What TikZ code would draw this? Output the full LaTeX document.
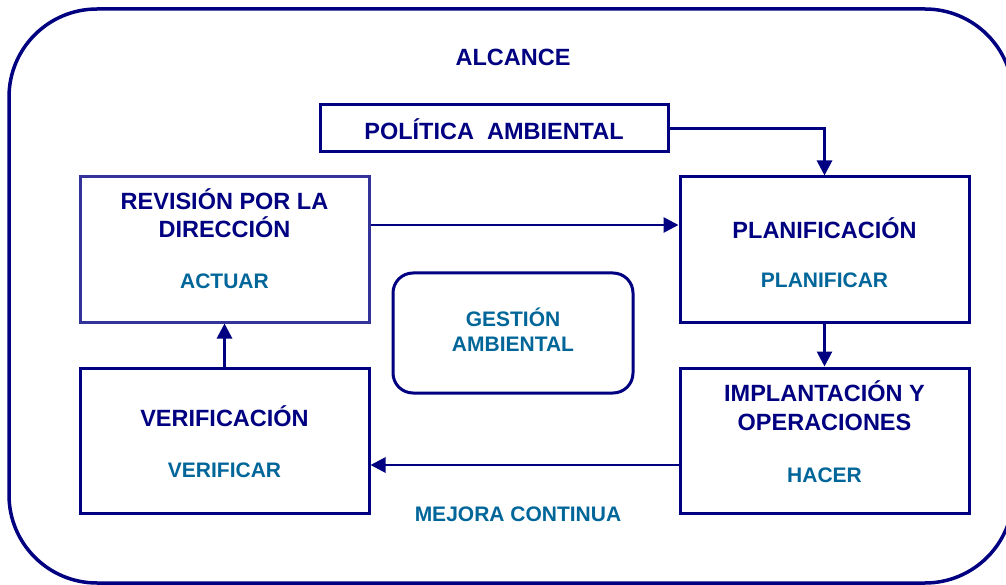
\documentclass[tikz,border=0pt]{standalone}
\usepackage{fontspec}
\setmainfont{Liberation Sans}
\usetikzlibrary{arrows.meta}
\definecolor{navy}{RGB}{0,0,128}
\definecolor{navyl}{RGB}{51,51,153}
\definecolor{tealb}{RGB}{0,102,153}
\begin{document}
\begin{tikzpicture}[x=1pt,y=-1pt,
  box/.style={draw=navy,line width=3pt,rectangle,inner sep=0pt,minimum width=289pt,minimum height=145pt},
  title/.style={text=navy,font=\fontsize{23.5}{27}\selectfont\bfseries,inner sep=0pt,anchor=base},
  sub/.style={text=tealb,font=\fontsize{21}{24}\selectfont\bfseries,inner sep=0pt,anchor=base},
  arr/.style={draw=navy,line width=2.8pt,-{Triangle[length=15pt,width=15pt]}}]
\useasboundingbox (0,0) rectangle (1006,585);
\begin{scope}
\clip (0,0) rectangle (1006,585);
\draw[navy,line width=3.5pt,rounded corners=88pt] (9,9) rectangle (1013,583);
\end{scope}
% boxes
\node[box,minimum width=348pt,minimum height=47pt] (pol) at (494,128.5) {};
\node[box,draw=navyl] (rev) at (224.5,249.5) {};
\node[box] (plan) at (824.5,249.5) {};
\node[box] (ver) at (224.5,440.5) {};
\node[box] (imp) at (824.5,440.5) {};
\node[box,minimum width=240pt,minimum height=120pt,rounded corners=20pt] (gest) at (513,333) {};
% texts
\node[title] (alc) at (513,66) {ALCANCE};
\node[title] (polt) at (494,139.3) {POLÍTICA~~AMBIENTAL};
\node[title] (rev1) at (224.5,210) {REVISIÓN POR LA};
\node[title] (rev2) at (224.5,237.3) {DIRECCIÓN};
\node[sub] (rev3) at (224.5,288.3) {ACTUAR};
\node[title] (plan1) at (824.5,238.3) {PLANIFICACIÓN};
\node[sub] (plan2) at (824.5,287.3) {PLANIFICAR};
\node[title] (ver1) at (224.5,426) {VERIFICACIÓN};
\node[sub] (ver2) at (224.5,477.3) {VERIFICAR};
\node[title] (imp1) at (824.5,401.7) {IMPLANTACIÓN Y};
\node[title] (imp2) at (824.5,430) {OPERACIONES};
\node[sub] (imp3) at (824.5,482.7) {HACER};
\node[sub] (gest1) at (513,326.7) {GESTIÓN};
\node[sub] (gest2) at (513,351.7) {AMBIENTAL};
\node[sub] (mej) at (518,521) {MEJORA CONTINUA};
% connectors
\draw[arr] (pol.east) -| (plan.north);
\draw[arr] ([yshift=24.5pt]rev.east) -- ([yshift=24.5pt]plan.west);
\draw[arr] (plan.south) -- (imp.north);
\draw[arr] ([yshift=-24.5pt]imp.west) -- ([yshift=-24.5pt]ver.east);
\draw[arr] (ver.north) -- (rev.south);
\end{tikzpicture}
\end{document}
